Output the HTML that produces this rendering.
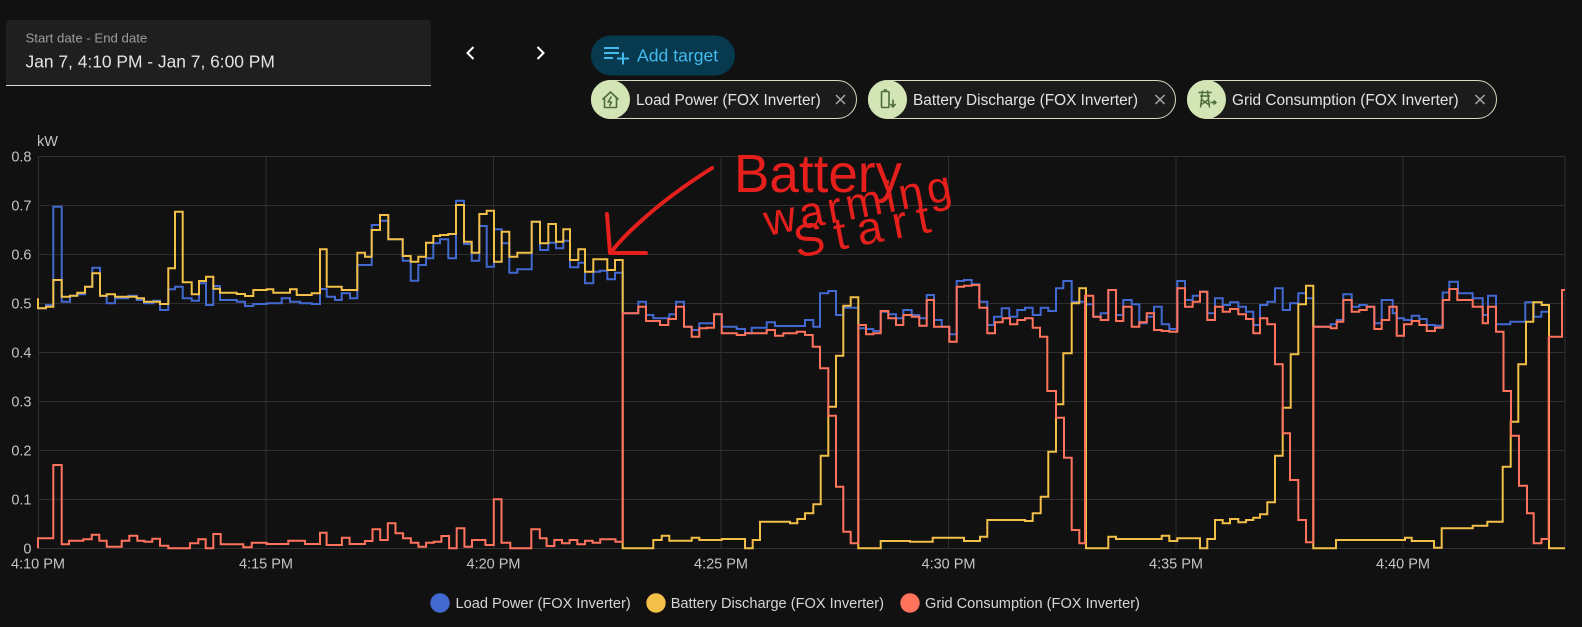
<!DOCTYPE html>
<html>
<head>
<meta charset="utf-8">
<style>
  html,body{margin:0;padding:0;background:#111111;}
  body{width:1582px;height:627px;overflow:hidden;}
  svg{display:block;}
  text{font-family:"Liberation Sans", Arial, sans-serif;}
</style>
</head>
<body>
<svg width="1582" height="627" viewBox="0 0 1582 627" xmlns="http://www.w3.org/2000/svg">
  <rect x="0" y="0" width="1582" height="627" fill="#111111"/>

  <!-- Date range box -->
  <path d="M6 85 V24 Q6 20 10 20 H427 Q431 20 431 24 V85 Z" fill="#1f1f1f"/>
  <line x1="6" y1="85.5" x2="431" y2="85.5" stroke="#dcdcdc" stroke-width="1"/>
  <text x="25.5" y="42.5" font-size="13.2" fill="#9e9e9e">Start date - End date</text>
  <text x="25.5" y="67.5" font-size="17.4" fill="#e3e3e3">Jan 7, 4:10 PM - Jan 7, 6:00 PM</text>

  <!-- chevrons -->
  <polyline points="473.5,47 467.5,53 473.5,59" fill="none" stroke="#ffffff" stroke-width="2"/>
  <polyline points="537.5,47 543.5,53 537.5,59" fill="none" stroke="#ffffff" stroke-width="2"/>

  <!-- Add target button -->
  <rect x="591" y="35.5" width="144" height="40" rx="20" fill="#073a4e"/>
  <g stroke="#45b8ec" stroke-width="2" fill="none">
    <line x1="604" y1="48" x2="619" y2="48"/>
    <line x1="604" y1="53" x2="619" y2="53"/>
    <line x1="604" y1="58" x2="613" y2="58"/>
    <line x1="617" y1="58.5" x2="629" y2="58.5"/>
    <line x1="623" y1="52.5" x2="623" y2="64.5"/>
  </g>
  <text x="637" y="61.5" font-size="17.6" fill="#45b8ec">Add target</text>

  <!-- Chips -->
  <g>
    <rect x="591.5" y="80.5" width="265" height="38" rx="19" fill="#1b1b1b" stroke="#d8dbc2" stroke-width="1"/>
    <circle cx="610.5" cy="99.5" r="19.5" fill="#d3e5b5"/>
    <g stroke="#4e6b3c" stroke-width="1.6" fill="none" stroke-linejoin="round">
      <path d="M602.5 99.5 L610.5 92 L618.5 99.5"/>
      <path d="M604.5 98 V107.5 H616.5 V98"/>
      <path d="M611.5 96.5 L608 102 H611.5 L609.5 106" />
    </g>
    <text x="636" y="105" font-size="15.4" fill="#e3e3e3">Load Power (FOX Inverter)</text>
    <g stroke="#a8a8a8" stroke-width="1.5"><line x1="836" y1="95" x2="845" y2="104"/><line x1="845" y1="95" x2="836" y2="104"/></g>
  </g>
  <g>
    <rect x="868.5" y="80.5" width="307" height="38" rx="19" fill="#1b1b1b" stroke="#d8dbc2" stroke-width="1"/>
    <circle cx="887.5" cy="99.5" r="19.5" fill="#d3e5b5"/>
    <g stroke="#4e6b3c" stroke-width="1.6" fill="none" stroke-linejoin="round">
      <rect x="881.5" y="91.5" width="7.5" height="16" rx="1"/>
      <line x1="883.5" y1="90" x2="887" y2="90"/>
      <path d="M893 99.5 V106.5 M890.5 104 L893 107 L895.5 104"/>
    </g>
    <text x="913" y="105" font-size="15.4" fill="#e3e3e3">Battery Discharge (FOX Inverter)</text>
    <g stroke="#a8a8a8" stroke-width="1.5"><line x1="1155.5" y1="95" x2="1164.5" y2="104"/><line x1="1164.5" y1="95" x2="1155.5" y2="104"/></g>
  </g>
  <g>
    <rect x="1187.5" y="80.5" width="309" height="38" rx="19" fill="#1b1b1b" stroke="#d8dbc2" stroke-width="1"/>
    <circle cx="1206.5" cy="99.5" r="19.5" fill="#d3e5b5"/>
    <g stroke="#4e6b3c" stroke-width="1.5" fill="none" stroke-linejoin="round">
      <path d="M1198.5 92.5 H1211.5 M1200 96 H1210 M1202.5 90.5 L1200.5 107.5 M1207.5 90.5 L1209.5 107.5 M1201.5 99.5 L1208.5 104.5 M1208.5 99.5 L1201.5 104.5"/>
      <path d="M1210.5 102.5 H1215.5 M1213.5 100.5 L1216 102.5 L1213.5 104.5"/>
    </g>
    <text x="1232" y="105" font-size="15.4" fill="#e3e3e3">Grid Consumption (FOX Inverter)</text>
    <g stroke="#a8a8a8" stroke-width="1.5"><line x1="1475.5" y1="95" x2="1484.5" y2="104"/><line x1="1484.5" y1="95" x2="1475.5" y2="104"/></g>
  </g>

  <!-- Grid -->
  <g stroke="#2f2f2f" stroke-width="1">
    <line x1="38" y1="156.5" x2="1565" y2="156.5"/>
    <line x1="38" y1="205.5" x2="1565" y2="205.5"/>
    <line x1="38" y1="254.5" x2="1565" y2="254.5"/>
    <line x1="38" y1="303.5" x2="1565" y2="303.5"/>
    <line x1="38" y1="352.5" x2="1565" y2="352.5"/>
    <line x1="38" y1="401.5" x2="1565" y2="401.5"/>
    <line x1="38" y1="450.5" x2="1565" y2="450.5"/>
    <line x1="38" y1="499.5" x2="1565" y2="499.5"/>
    <line x1="38" y1="548.5" x2="1565" y2="548.5"/>
    <line x1="38.5" y1="156.5" x2="38.5" y2="548.5"/>
    <line x1="266" y1="156.5" x2="266" y2="548.5"/>
    <line x1="493.5" y1="156.5" x2="493.5" y2="548.5"/>
    <line x1="721" y1="156.5" x2="721" y2="548.5"/>
    <line x1="948.5" y1="156.5" x2="948.5" y2="548.5"/>
    <line x1="1176" y1="156.5" x2="1176" y2="548.5"/>
    <line x1="1403" y1="156.5" x2="1403" y2="548.5"/>
    <line x1="1565" y1="156.5" x2="1565" y2="548.5"/>
  </g>

  <!-- Y axis labels -->
  <g font-size="14.5" fill="#c4c4c4" text-anchor="end">
    <text x="31.5" y="161.5">0.8</text>
    <text x="31.5" y="210.5">0.7</text>
    <text x="31.5" y="259.5">0.6</text>
    <text x="31.5" y="308.5">0.5</text>
    <text x="31.5" y="357.5">0.4</text>
    <text x="31.5" y="406.5">0.3</text>
    <text x="31.5" y="455.5">0.2</text>
    <text x="31.5" y="504.5">0.1</text>
    <text x="31.5" y="553.5">0</text>
  </g>
  <text x="37" y="146" font-size="14.5" fill="#c4c4c4">kW</text>

  <!-- X axis labels -->
  <g font-size="14.5" fill="#c4c4c4" text-anchor="middle">
    <text x="38" y="568.5">4:10 PM</text>
    <text x="266" y="568.5">4:15 PM</text>
    <text x="493.5" y="568.5">4:20 PM</text>
    <text x="721" y="568.5">4:25 PM</text>
    <text x="948.5" y="568.5">4:30 PM</text>
    <text x="1176" y="568.5">4:35 PM</text>
    <text x="1403" y="568.5">4:40 PM</text>
  </g>

  <!-- Series -->
  <g fill="none" stroke-width="2" stroke-linejoin="miter">
    <path stroke="#4269d0" d="M38 308.3 H46 V305 H53.3 V206.7 H61.7 V301.7 H70 V295.7 H77.3 V294.3 H85 V286.7 H92.3 V267.7 H100 V296 H106.7 V303.3 H115 V298.3 H128.3 V295.7 H136.7 V300 H144 V303.3 H153.3 V300.7 H160 V310 H168.3 V289.3 H175 V286.7 H182.7 V298.3 H191.7 V300.7 H199 V283.3 H206 V305 H213.3 V286 H220 V300 H236.7 V301.7 H245 V306 H253.3 V304 H266.7 V303.3 H281.7 V298.3 H290 V301.7 H300 V303.3 H311.7 V304 H320 V289 H326.7 V296.7 H335 V300 H341.7 V293.3 H350 V298.3 H357.3 V265 H371.7 V225 H380 V220.7 H388.3 V239.3 H402.7 V260.7 H410.7 V280.7 H418.3 V265 H426 V258.3 H433.3 V243.3 H440 V239.3 H448.3 V258.3 H456 V200.7 H464 V244 H471.7 V260.7 H479.3 V226 H486.7 V266.7 H494 V229.3 H501.7 V243.3 H509.3 V272.7 H517.3 V269.3 H531.7 V221.7 H540 V250 H548.3 V242.7 H556 V248.3 H563.3 V240.7 H570 V267.3 H578.3 V262.7 H585 V283.3 H593.3 V271.7 H600 V270.7 H607.3 V279.3 H615 V272.7 H622.7 V313.3 H638.3 V301.7 H646 V315 H653.3 V318.3 H669.3 V314.3 H676 V301.7 H684 V326.7 H691.7 V330 H699.3 V323.3 H714 V314.3 H721.7 V326.7 H736.7 V329 H745 V333.3 H751.7 V327.7 H766.7 V322.3 H775 V326 H805 V320 H813.3 V326.7 H820 V293.3 H828.3 V291 H836 V315 H843.3 V307.7 H858.3 V328.3 H866 V329 H873.3 V331 H880.7 V311.7 H888.3 V314.3 H896 V318.3 H903.3 V310 H911.7 V315 H919.3 V318.3 H926.7 V295 H934 V320 H941.7 V326.7 H949.3 V334.3 H956.7 V281 H964 V280 H971.7 V284.3 H979.3 V301.7 H987.3 V325 H994 V316.7 H1001.7 V308.3 H1009.3 V316.7 H1017.3 V310 H1025 V307.7 H1032.7 V315 H1040.7 V307.7 H1048.3 V311 H1056 V288.3 H1063.3 V281 H1071.7 V301.7 H1085 V304.3 H1093.3 V316.7 H1100.7 V313.3 H1108.3 V290 H1116 V315 H1123.3 V300 H1131.7 V304.3 H1139.3 V323.3 H1146.7 V316.7 H1154 V306.7 H1161.7 V324.3 H1169.3 V329 H1177.3 V281 H1185 V300 H1192.7 V295.7 H1200 V291.7 H1207.3 V313.3 H1215 V298.3 H1222.7 V305 H1230 V302.3 H1238.3 V306.7 H1246 V311.7 H1253.3 V325 H1260 V305 H1267.3 V301.7 H1275 V288.3 H1282.7 V310 H1290 V303.3 H1298.3 V293.3 H1306 V298.3 H1313.3 V326.7 H1330.7 V324.3 H1336.7 V320 H1343.3 V294.3 H1351.7 V306.7 H1359.3 V305 H1366.7 V306.7 H1374.3 V323.3 H1381.7 V300 H1392.7 V313.3 H1396.7 V318.3 H1404 V320 H1411.7 V315.7 H1419.3 V319 H1426.7 V325 H1435 V325.7 H1442.7 V292.5 H1449.3 V281.7 H1458 V293.3 H1472.7 V298.3 H1482.7 V315 H1488 V295.7 H1496 V324.3 H1510.3 V321.7 H1525.3 V302.3 H1533.7 V316.7 H1541.3 V311.7 H1548"/>
    <path stroke="#f2bf48" d="M38 298.3 V308.3 H46 V306.7 H53.3 V280 H61.7 V296.7 H70 V295.7 H77.3 V292.7 H85 V286.7 H92.3 V273.3 H100 V295.7 H106.7 V294.3 H115 V296.7 H136.7 V298.3 H144 V301.7 H160 V304 H168.3 V268.3 H175 V211.7 H182.7 V282.3 H191.7 V294.3 H199 V281 H206 V276.7 H213.3 V288.7 H220 V292.7 H236.7 V294 H245 V296 H253.3 V290 H266.7 V289.3 H273.3 V292.7 H290 V289.3 H296.7 V295 H311.7 V293.3 H320 V249.3 H326.7 V286.7 H341.7 V290 H357.3 V252.7 H365 V256.7 H371.7 V230 H380 V215 H388.3 V239.3 H402.7 V256 H410.7 V261.7 H418.3 V256.7 H426 V242.7 H433.3 V236 H440 V235 H448.3 V234 H456 V205 H464 V241.7 H471.7 V252.7 H479.3 V214 H486.7 V210.7 H494 V261.7 H501.7 V231.7 H509.3 V256.7 H517.3 V252.7 H531.7 V221.7 H540 V243.3 H548.3 V224 H556 V241.7 H563.3 V229.3 H570 V260 H578.3 V249.3 H585 V271.7 H593.3 V259.3 H607.3 V270 H615 V260 H622.7 V548.3 H653.3 V540 H661.7 V535.7 H669.3 V540.7 H691.7 V537.7 H699.3 V540 H721.7 V539 H745 V548.3 H752.7 V540 H760 V521.7 H790 V523.3 H797.3 V519 H805 V513.3 H813.3 V504.3 H820.7 V455.7 H828.3 V406.7 H836 V355.7 H843.3 V305.7 H850.7 V297.3 H858.3 V548.3 H880.7 V541 H910 V541.7 H932.7 V537.7 H964 V541 H980 V536.7 H987.3 V520 H1025 V521 H1032.7 V513.3 H1040.7 V496.7 H1048.3 V451.7 H1056 V404.3 H1063.3 V353.3 H1071.7 V303.3 H1079.3 V288.3 H1086 V548.3 H1108.3 V536.7 H1116 V539 H1161.7 V535.7 H1169.3 V541 H1177.3 V538.3 H1200 V548.3 H1207.3 V539 H1215 V520 H1222.7 V523.3 H1230 V519 H1238.3 V522.3 H1246 V520 H1253.3 V517.7 H1260 V514.3 H1267.3 V502.3 H1275 V455.7 H1282.7 V407.7 H1290.7 V354.3 H1298.3 V304.3 H1306 V285.7 H1313.3 V548.3 H1336 V540 H1405 V537.7 H1411.7 V541 H1434 V547.7 H1441.7 V528.3 H1472.7 V525.7 H1487.3 V521.7 H1502.7 V466.7 H1510.7 V421.7 H1518.3 V364.3 H1526 V321.7 H1533.3 V302.3 H1541.7 V305 H1549 V548.3 H1565"/>
    <path stroke="#ff725c" d="M38 548.3 V538.3 H53.3 V465 H61.7 V544.3 H69 V540.7 H83.3 V539.3 H91.7 V534.7 H99.3 V540.7 H106.7 V546.7 H121.7 V540.7 H129.3 V535.7 H137.3 V540.7 H144.3 V541.7 H152.3 V538.7 H160 V545.7 H168.3 V548.3 H190 V543.3 H198.3 V539.3 H205.7 V548.3 H213.3 V534 H220.7 V544.3 H243.3 V547.3 H251.7 V542.7 H266.7 V544 H288.3 V540.7 H305 V544 H320 V532.7 H326.6 V545 H341.9 V537.7 H349.6 V544 H364.9 V541 H372.5 V529.3 H380.2 V540 H387.8 V523.3 H395.5 V533.3 H403.1 V538.3 H410.8 V542.7 H418.4 V546.7 H426.1 V542.7 H433.7 V541.7 H441.4 V536 H449.1 V548.3 H456.7 V528.3 H464.4 V546.7 H472 V540 H485.4 V545 H493.8 V499.3 H501.5 V542.7 H510.3 V548.3 H531.3 V529.3 H539.8 V538.3 H546.6 V546 H554.3 V540 H562 V543.3 H569.6 V540 H577.3 V544.3 H585 V540.7 H592.6 V542.7 H600.2 V539.3 H615.5 V541.7 H622.7 V313.3 H638.3 V306.7 H646 V321 H660 V325 H668.3 V319 H676 V306.7 H684 V326.7 H691.7 V336.7 H699.3 V328.3 H706.7 V327.7 H714 V314.3 H721.7 V333.3 H736.7 V335 H745 V333.3 H766.7 V330 H775 V335.7 H783.3 V333.3 H796.7 V331.7 H805 V335 H812.7 V346.7 H820 V368.3 H828.3 V415.7 H836 V486.7 H843.3 V531.7 H850.7 V543.3 H858.3 V325 H866 V334.3 H873.3 V333.3 H880.7 V311 H888.3 V318.3 H896 V325 H903.3 V315 H911.7 V316.7 H919.3 V325.7 H926.7 V300 H934 V326.7 H949.3 V341.7 H956.7 V286.7 H964 V285.7 H971.7 V285 H979.3 V307.7 H987.3 V333.3 H995 V322.3 H1002.7 V318.3 H1010 V324.3 H1017.3 V320 H1025 V318.3 H1032.7 V327.7 H1040 V336.7 H1047.3 V391 H1056 V417.7 H1064 V457.7 H1071.7 V530 H1079.3 V543.3 H1085 V295.7 H1093.3 V316.7 H1100.7 V320 H1108.3 V290 H1116 V321 H1123.3 V306.7 H1131.7 V326.7 H1139.3 V322.3 H1146.7 V313.3 H1154 V330 H1161.7 V331 H1169.3 V331.7 H1177.3 V288.3 H1185 V306.7 H1192.7 V301.7 H1200 V291.7 H1207.3 V320 H1215 V306.7 H1222.7 V311.7 H1230 V309 H1238.3 V314.3 H1246 V319 H1253.3 V333.3 H1260 V318.3 H1267.3 V324.3 H1275 V364.3 H1282.7 V433.3 H1290 V480 H1298.3 V520 H1306 V542.3 H1313.3 V326.7 H1330.7 V328.3 H1336.7 V321.7 H1343.3 V300 H1351.7 V311.7 H1359.3 V310 H1366.7 V306.7 H1374.3 V329 H1381.7 V320 H1389.3 V306.7 H1396.7 V335.7 H1404 V324.3 H1411.7 V321 H1419.3 V325 H1426.7 V331 H1435 V327.7 H1442.7 V300 H1449.3 V289 H1457.3 V300 H1472.7 V306.7 H1482.7 V323.3 H1488 V306.7 H1496 V331.7 H1503.5 V391 H1511 V435.7 H1519 V485.7 H1527 V513.3 H1533.7 V543.3 H1541.5 V539 H1548.7 V336.7 H1562 V290 H1565"/>
  </g>

  <!-- Handwritten annotation -->
  <g stroke="#e5201c" stroke-width="4" fill="none" stroke-linecap="round" stroke-linejoin="round">
    <path d="M712 168 Q668 196 640 222 Q623 237 612 251"/>
    <path d="M607 214 L610 253 L646 253"/>
  </g>
  <g fill="#e5201c">
    <text x="734" y="192" font-size="54" textLength="168" lengthAdjust="spacingAndGlyphs">Battery</text>
    <text x="767" y="236" font-size="44" textLength="190" lengthAdjust="spacing" transform="rotate(-11 767 236)">warming</text>
    <text x="797" y="258" font-size="46" textLength="138" lengthAdjust="spacing" transform="rotate(-11 797 258)">Start</text>
  </g>

  <!-- Legend -->
  <circle cx="440" cy="603" r="9.7" fill="#4269d0"/>
  <text x="455.5" y="608.2" font-size="14.6" fill="#d6d6d6">Load Power (FOX Inverter)</text>
  <circle cx="656" cy="603" r="9.7" fill="#f2bf48"/>
  <text x="670.7" y="608.2" font-size="14.6" fill="#d6d6d6">Battery Discharge (FOX Inverter)</text>
  <circle cx="910" cy="603" r="9.7" fill="#ff725c"/>
  <text x="925" y="608.2" font-size="14.6" fill="#d6d6d6">Grid Consumption (FOX Inverter)</text>
</svg>
</body>
</html>
